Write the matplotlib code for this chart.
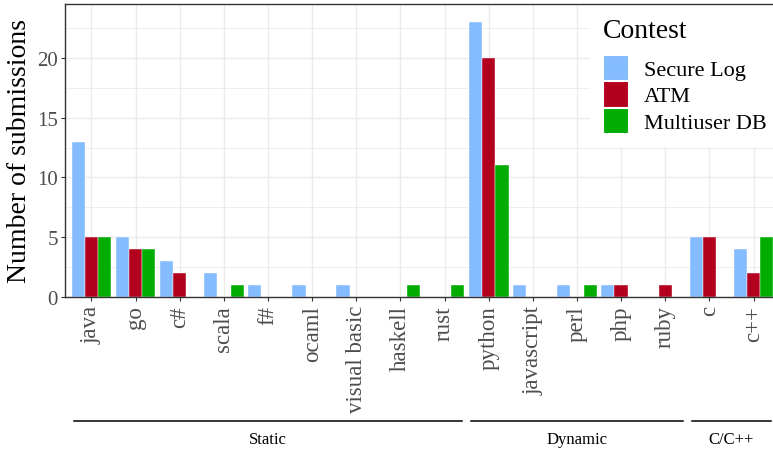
import matplotlib

matplotlib.use("Agg")
import matplotlib.pyplot as plt
import numpy as np
from matplotlib.patches import Patch
from matplotlib.transforms import blended_transform_factory

languages = ["java", "go", "c#", "scala", "f#", "ocaml", "visual basic",
             "haskell", "rust", "python", "javascript", "perl", "php",
             "ruby", "c", "c++"]
secure_log = [13, 5, 3, 2, 1, 1, 1, 0, 0, 23, 1, 1, 1, 0, 5, 4]
atm = [5, 4, 2, 0, 0, 0, 0, 0, 0, 20, 0, 0, 1, 1, 5, 2]
multiuser_db = [5, 4, 0, 1, 0, 0, 0, 1, 1, 11, 0, 1, 0, 0, 0, 5]
contests = ["Secure Log", "ATM", "Multiuser DB"]
colors = ["#85BBFF", "#B3001E", "#00AD00"]

# language families: (label, first index, last index)
groups = [("Static", 0, 8), ("Dynamic", 9, 13), ("C/C++", 14, 15)]

plt.rcParams["font.family"] = ["Liberation Serif", "DejaVu Serif"]

W, H = 773, 452
fig = plt.figure(figsize=(W / 100, H / 100), dpi=100)
ax = fig.add_axes([65 / W, 154.3 / H, 715 / W, 292.4 / H])

x = np.arange(len(languages))
width = 0.3
for k, (vals, col) in enumerate(zip([secure_log, atm, multiuser_db], colors)):
    ax.bar(x + (k - 1) * width, vals, width=width, color=col,
           edgecolor="white", linewidth=0.3, zorder=3)

ax.set_xlim(-0.6, len(languages) - 0.4)
ax.set_ylim(0, 24.5)
ax.set_xticks(x)
ax.set_xticklabels(languages, rotation=90, fontsize=16.5, color="#4D4D4D")
ax.set_yticks([0, 5, 10, 15, 20])
ax.set_yticks(np.arange(2.5, 24, 5), minor=True)
ax.tick_params(axis="y", which="major", labelsize=15, labelcolor="#4D4D4D",
               length=3, width=0.8, color="#333333", pad=2)
ax.tick_params(axis="x", which="major", length=3, width=0.8,
               color="#333333", pad=3)
ax.tick_params(axis="y", which="minor", length=0)
ax.grid(True, which="major", color="#EBEBEB", lw=1.0, zorder=0)
ax.grid(True, which="minor", axis="y", color="#EBEBEB", lw=0.6, zorder=0)
ax.set_axisbelow(True)
for sp in ax.spines.values():
    sp.set_color("#333333")
    sp.set_linewidth(1.0)
    sp.set_zorder(6)  # keep the panel border above the legend box

ax.set_ylabel("Number of submissions", fontsize=20, labelpad=4)

handles = [Patch(facecolor=c, edgecolor="white", linewidth=0.8) for c in colors]
leg = ax.legend(handles, contests, title="Contest", loc="upper left",
                bbox_to_anchor=(589.7 / W, 1 - 5.3 / H),
                bbox_transform=fig.transFigure, fontsize=16,
                title_fontsize=20, frameon=True, fancybox=False,
                facecolor="white", edgecolor="none", framealpha=1,
                borderpad=0.6, handlelength=1.13, handleheight=1.36,
                handletextpad=0.7, labelspacing=0.08, borderaxespad=0)
leg._legend_box.align = "left"
leg._legend_box.sep = 8.6
leg.set_zorder(5)

# family brackets under the tick labels
trans = blended_transform_factory(ax.transData, fig.transFigure)
for name, i0, i1 in groups:
    ax.plot([i0 - 0.4, i1 + 0.4], [1 - 422 / H] * 2, color="black", lw=1.1,
            transform=trans, clip_on=False)
    ax.text((i0 + i1) / 2, 1 - 440 / H, name, transform=trans, ha="center",
            va="center", fontsize=12)

fig.savefig("out.png", dpi=100)
